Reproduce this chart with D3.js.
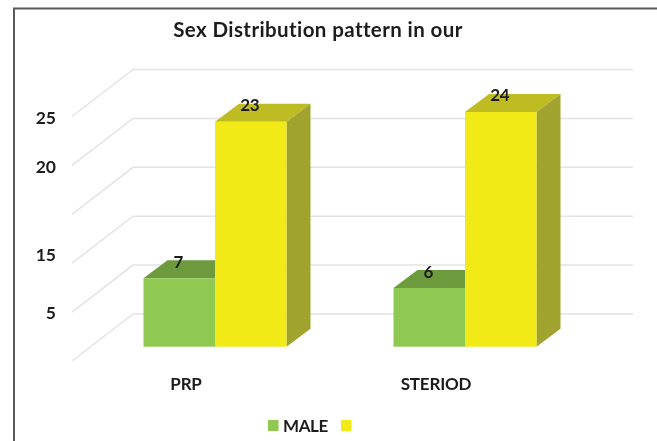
<!DOCTYPE html>
<html>
<head>
<meta charset="utf-8">
<title>Sex Distribution pattern in our</title>
<script src="https://cdn.jsdelivr.net/npm/d3@7"></script>
<style>
   html, body { margin: 0; padding: 0; background: #fff; overflow: hidden; }
   svg { display: block; filter: blur(0.4px); }
   text { font-family: Lato, "Open Sans", sans-serif; fill: #1c1c1c; }
</style>
</head>
<body>
<div id="chart"></div>
<script>

// CHART VALUES
var title = 'Sex Distribution pattern in our';
var categories = ['PRP', 'STERIOD'];
var seriesNames = ['MALE', ''];
var maleValues = [7, 6];
var otherValues = [23, 24];

// GRID AND TICK LABELS -- THE PICTURE PRINTS 15 LOWER THAN ITS GRIDLINE AND SKIPS 10 AND 0
var gridValues = [0, 5, 10, 15, 20, 25];
var tickLabels = ['25', '20', '15', '5'];
var tickPlaces = [25, 20, 11, 5];

// SETTINGS
var settings = {
   width: 657,
   height: 441,
   depth: { wall: [61, -47], floor: [18, -14.3], bar: [24, -18] },
   colors: {
      grid: '#e2e3e3',
      frame: '#5a5a5a',
      green: { front: '#8fc951', top: '#6c9a3c', side: '#6f8f38' },
      yellow: { front: '#f2ea17', top: '#bfbb22', side: '#a1a32f' }
   }
};

// GENERATE CANVAS
var canvas = d3.select('#chart').append('svg')
   .attr('width', settings.width)
   .attr('height', settings.height)

// X-SCALING -- ONE BAND PER GROUP ON THE FRONT EDGE OF THE FLOOR
var xScale = d3.scaleBand()
   .domain(categories)
   .range([72, 572])

// INNER SCALING -- TWO TOUCHING BARS INSIDE A GROUP
var innerScale = d3.scaleBand()
   .domain(seriesNames)
   .range([53.5, 196.5])

// Y-SCALING
var yScale = d3.scaleLinear()
   .domain([0, 25])
   .range([361, 116.5])

// OUTER FRAME
canvas.append('path')
   .attr('d', d3.line()([[14, settings.height], [14, 8.5], [settings.width, 8.5]]))
   .attr('fill', 'none')
   .attr('stroke', settings.colors.frame)
   .attr('stroke-width', 2)

// GRIDLINES -- DIAGONAL ON THE SIDE WALL, THEN ACROSS THE BACK WALL
var wall = settings.depth.wall;

canvas.selectAll('path.grid')
   .data(gridValues)
      .enter().append('path')
         .attr('class', 'grid')
         .attr('fill', 'none')
         .attr('stroke', settings.colors.grid)
         .attr('stroke-width', 1.5)
         .attr('d', (d) => {
            return d3.line()([
               [xScale.range()[0], yScale(d)],
               [xScale.range()[0] + wall[0], yScale(d) + wall[1]],
               [xScale.range()[1] + wall[0], yScale(d) + wall[1]]
            ])
         })

// Y-AXIS
var yAxis = d3.axisLeft(yScale)
   .tickValues(tickPlaces)
   .tickSize(0)
   .tickPadding(0)
   .tickFormat((d, i) => { return tickLabels[i] })

canvas.append('g')
   .attr('transform', 'translate(55.5, 1)')
   .call(yAxis)
   .call((g) => { g.select('.domain').remove() })
   .selectAll('text')
      .attr('font-size', 17.5)
      .attr('font-weight', 700)
      .attr('letter-spacing', -0.3)

// X-AXIS -- LABELS SIT LEFT OF THE BARS
var xAxis = d3.axisBottom(xScale)
   .tickSize(0)
   .tickPadding(0)

canvas.append('g')
   .attr('transform', 'translate(-11, 378)')
   .call(xAxis)
   .call((g) => { g.select('.domain').remove() })
   .selectAll('text')
      .attr('font-size', 17)
      .attr('font-weight', 700)
      .attr('letter-spacing', -0.2)

// DRAW ONE 3D BAR
function bar_3d(group, x, width, top, bottom, shade) {
   var d = settings.depth.bar;

   // TOP FACE
   group.append('path')
      .attr('fill', shade.top)
      .attr('d', d3.line()([[x, top], [x + d[0], top + d[1]], [x + width + d[0], top + d[1]], [x + width, top]]) + 'Z')

   // SIDE FACE
   group.append('path')
      .attr('fill', shade.side)
      .attr('d', d3.line()([[x + width, top], [x + width + d[0], top + d[1]], [x + width + d[0], bottom + d[1]], [x + width, bottom]]) + 'Z')

   // FRONT FACE
   group.append('rect')
      .attr('x', x)
      .attr('y', top)
      .attr('width', width)
      .attr('height', bottom - top)
      .attr('fill', shade.front)
}

// LOOP THROUGH SERIES & DRAW THE BARS OF EACH GROUP
var series = [
   { name: seriesNames[0], values: maleValues, shade: settings.colors.green },
   { name: seriesNames[1], values: otherValues, shade: settings.colors.yellow }
];
var floor = settings.depth.floor;

series.forEach((s) => {
   var group = canvas.append('g');

   s.values.forEach((value, i) => {
      var x = xScale(categories[i]) + floor[0] + innerScale(s.name);
      bar_3d(group, x, innerScale.bandwidth(), yScale(value) + floor[1], yScale(0) + floor[1], s.shade);
   });
});

// VALUE LABELS -- DRAWN LAST SO NO BAR COVERS THEM
series.forEach((s) => {
   canvas.selectAll('text.value-' + series.indexOf(s))
      .data(s.values)
         .enter().append('text')
            .attr('class', 'value-' + series.indexOf(s))
            .attr('x', (d, i) => { return xScale(categories[i]) + floor[0] + innerScale(s.name) + innerScale.bandwidth() / 2 - 1 })
            .attr('y', (d) => { return yScale(d) + floor[1] - 10.5 })
            .attr('text-anchor', 'middle')
            .attr('font-size', 17)
            .attr('font-weight', 700)
            .attr('letter-spacing', -0.3)
            .text((d) => { return d })
});

// LEGEND
var legendScale = d3.scalePoint()
   .domain(seriesNames)
   .range([268, 341])

var legend = canvas.selectAll('g.legend')
   .data(series)
      .enter().append('g')
         .attr('class', 'legend')
         .attr('transform', (d) => { return 'translate(' + legendScale(d.name) + ', 420)' })

legend.append('rect')
   .attr('width', 10.5)
   .attr('height', 11)
   .attr('fill', (d) => { return d.shade.front })

legend.append('text')
   .attr('x', 15)
   .attr('y', 11.5)
   .attr('font-size', 17)
   .attr('font-weight', 700)
   .attr('letter-spacing', -0.4)
   .text((d) => { return d.name })

// TITLE
canvas.append('text')
   .attr('x', 318)
   .attr('y', 37)
   .attr('text-anchor', 'middle')
   .attr('font-size', 20.5)
   .attr('font-weight', 700)
   .attr('letter-spacing', 0.4)
   .text(title)

</script>
</body>
</html>
